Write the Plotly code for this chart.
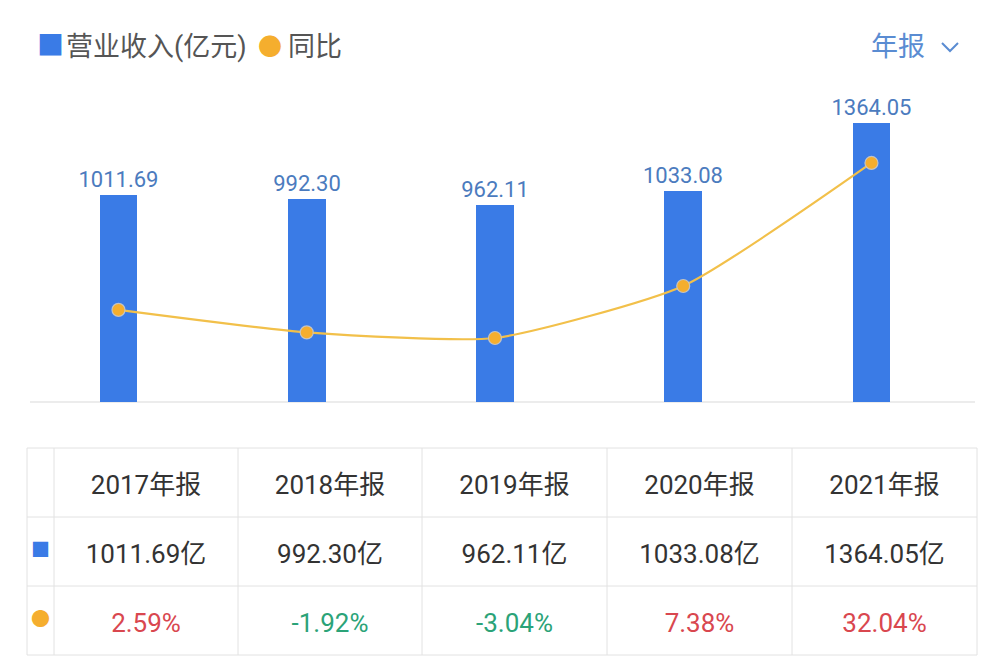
import plotly.graph_objects as go

years = ["2017", "2018", "2019", "2020", "2021"]
year_labels = ["2017年报", "2018年报", "2019年报", "2020年报", "2021年报"]
revenue = [1011.69, 992.30, 962.11, 1033.08, 1364.05]
yoy = [2.59, -1.92, -3.04, 7.38, 32.04]

BLUE = "#3A7BE6"
ORANGE = "#F5AE2E"
LINE = "#F2C04A"
RED = "#D9474F"
GREEN = "#2BA378"
GRID = "#E2E2E2"
FONT = "Roboto, Noto Sans CJK SC, sans-serif"
W, H = 1000, 671
OFF = 8  # page body margin

def px(x):
    return (x - OFF) / W

def py(y):
    return 1 - (y - OFF) / H

fig = go.Figure()

fig.add_trace(go.Bar(
    x=years, y=revenue, width=0.2, marker=dict(color=BLUE, line=dict(width=0)),
    text=[f"{v:.2f}" for v in revenue], textposition="outside", constraintext="none",
    textfont=dict(family=FONT, size=22, color="#4B7BBE"),
    cliponaxis=False, showlegend=False, hoverinfo="skip",
))

fig.add_trace(go.Scatter(
    x=years, y=yoy, yaxis="y2", mode="lines+markers",
    line=dict(color=LINE, width=2.2, shape="spline", smoothing=0.55),
    marker=dict(color=ORANGE, size=13, line=dict(color="rgba(200,200,200,0.9)", width=1.2)),
    showlegend=False, hoverinfo="skip",
))

# table below the chart (text from go.Table, grid drawn with shapes)
col_edges = [27, 54, 238, 422, 607, 792, 977]
row_edges = [448, 517, 586, 655]
TEXT_SHIFT = 18

pct_colors = [RED if v >= 0 else GREEN for v in yoy]
header_vals = [""] + year_labels
cell_vals = [["■", "●"]] + [[f"{r:.2f}亿", f"{p:.2f}%"] for r, p in zip(revenue, yoy)]
cell_colors = [[BLUE, ORANGE]] + [["#333333", c] for c in pct_colors]
cell_sizes = [19] + [26] * len(years)

fig.add_trace(go.Table(
    domain=dict(x=[px(col_edges[0]), px(col_edges[-1])],
                y=[py(row_edges[-1] + TEXT_SHIFT + 2), py(row_edges[0] + TEXT_SHIFT)]),
    columnwidth=[col_edges[i + 1] - col_edges[i] for i in range(len(col_edges) - 1)],
    header=dict(values=header_vals, height=69, align="center",
                fill_color="rgba(0,0,0,0)", line=dict(color="rgba(0,0,0,0)", width=0),
                font=dict(family=FONT, size=26, color="#333333")),
    cells=dict(values=cell_vals, height=69, align="center",
               fill_color="rgba(0,0,0,0)", line=dict(color="rgba(0,0,0,0)", width=0),
               font=dict(family=FONT, size=cell_sizes, color=cell_colors)),
))

shapes = []
for xe in col_edges:
    shapes.append(dict(type="line", xref="paper", yref="paper", x0=px(xe), x1=px(xe),
                       y0=py(row_edges[0]), y1=py(row_edges[-1]), line=dict(color=GRID, width=1)))
for ye in row_edges:
    shapes.append(dict(type="line", xref="paper", yref="paper", x0=px(col_edges[0]), x1=px(col_edges[-1]),
                       y0=py(ye), y1=py(ye), line=dict(color=GRID, width=1)))

shapes += [
    dict(type="path", xref="paper", yref="paper",
         path=f"M {px(942)} {py(43)} L {px(950)} {py(51)} L {px(958)} {py(43)}",
         line=dict(color="#5A8CD2", width=2)),
    dict(type="line", xref="paper", yref="paper", x0=px(30), x1=px(975), y0=py(402), y1=py(402),
         line=dict(color="#E6E6E6", width=1.5), layer="below"),
]

annotations = [
    dict(x=px(35), y=py(46), xref="paper", yref="paper", xanchor="left", yanchor="middle",
         text="■", showarrow=False, font=dict(family=FONT, size=27, color=BLUE)),
    dict(x=px(64), y=py(47), xref="paper", yref="paper", xanchor="left", yanchor="middle",
         text="营业收入(亿元)", showarrow=False, font=dict(family=FONT, size=27, color="#555555")),
    dict(x=px(256), y=py(47), xref="paper", yref="paper", xanchor="left", yanchor="middle",
         text="●", showarrow=False, font=dict(family=FONT, size=24, color=ORANGE)),
    dict(x=px(286), y=py(47), xref="paper", yref="paper", xanchor="left", yanchor="middle",
         text="同比", showarrow=False, font=dict(family=FONT, size=27, color="#555555")),
    dict(x=px(927), y=py(47), xref="paper", yref="paper", xanchor="right", yanchor="middle",
         text="年报", showarrow=False, font=dict(family=FONT, size=27, color="#5A8CD2")),
]

fig.update_layout(
    width=W, height=H, margin=dict(l=0, r=0, t=0, b=0),
    paper_bgcolor="white", plot_bgcolor="white",
    font=dict(family=FONT),
    xaxis=dict(domain=[px(30), px(975)], range=[-0.47, 4.55], type="category",
               showgrid=False, showticklabels=False, zeroline=False, showline=False),
    yaxis=dict(domain=[py(402), py(100)], range=[0, 1476], showgrid=False,
               showticklabels=False, zeroline=False, showline=False),
    yaxis2=dict(overlaying="y", range=[-15.87, 44.65], showgrid=False,
                showticklabels=False, zeroline=False, showline=False),
    annotations=annotations, shapes=shapes, bargap=0,
)

fig.write_html("out.html")
